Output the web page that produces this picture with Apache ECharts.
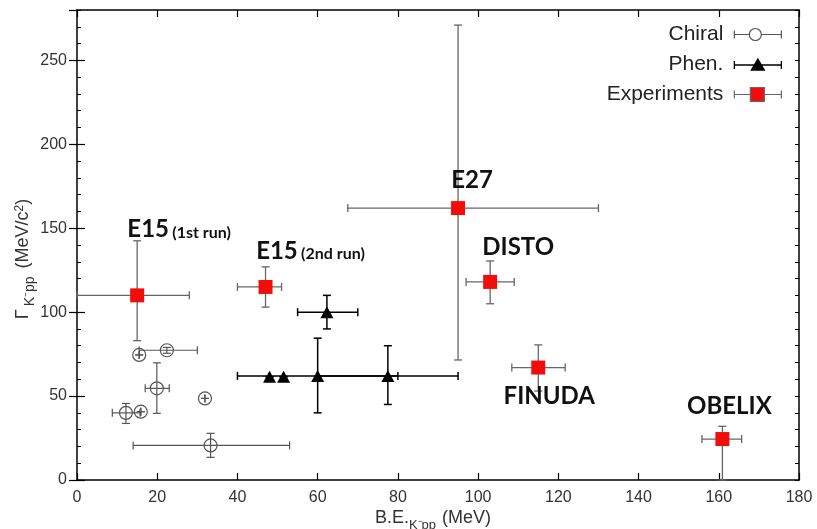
<!DOCTYPE html>
<html>
<head>
<meta charset="utf-8">
<script src="https://cdn.jsdelivr.net/npm/echarts@6/dist/echarts.min.js"></script>
<style>
  html, body { margin: 0; padding: 0; background: #fff; }
  #chart { width: 817px; height: 529px; }
</style>
</head>
<body>
<div id="chart"></div>
<script>
// K-pp binding energy (MeV) vs width (MeV/c^2)

// Chiral-model calculations
const chiralBE     = [15.5, 22.4, 19.9, 12.2, 15.9, 31.9, 33.3];
const chiralBELow  = [15.5, 15.5, 17.0,  8.8, 15.9, 31.9, 14.0];
const chiralBEHigh = [15.5, 30.0, 23.0, 15.7, 15.9, 31.9, 53.0];
const chiralW      = [74.5, 77.3, 54.6, 40.0, 40.7, 48.6, 20.6];
const chiralWLow   = [74.5, 75.5, 39.7, 33.7, 40.7, 48.6, 13.5];
const chiralWHigh  = [74.5, 79.0, 69.8, 45.6, 40.7, 48.6, 27.8];

// Phenomenological calculations
const phenBE     = [62.3, 48.0, 51.5, 60.0, 77.5];
const phenBELow  = [55.0, 48.0, 51.5, 40.0, 60.0];
const phenBEHigh = [70.0, 48.0, 51.5, 80.0, 95.0];
const phenW      = [100.0, 61.5, 61.5, 62.0, 62.0];
const phenWLow   = [90.0, 61.5, 61.5, 40.0, 45.0];
const phenWHigh  = [110.0, 61.5, 61.5, 84.5, 80.0];

// Experimental results
const expNames  = ['E15', 'E15', 'E27', 'DISTO', 'FINUDA', 'OBELIX'];
const expNotes  = ['(1st run)', '(2nd run)', '', '', '', ''];
const expBE     = [15.0, 47.0, 95.0, 103.0, 115.0, 160.9];
const expBELow  = [0.0, 40.0, 67.5, 97.0, 108.4, 155.8];
const expBEHigh = [28.0, 51.0, 130.0, 109.0, 121.7, 165.7];
const expW      = [110.0, 115.0, 162.0, 118.0, 67.0, 24.4];
const expWLow   = [83.0, 103.0, 71.5, 105.0, 53.0, 0.0];
const expWHigh  = [142.5, 127.0, 271.0, 130.5, 80.5, 32.0];

// Axis ticks
const xTicks = { min: 0, max: 180, step: 20 };
const yTicks = { min: 0, max: 280, major: 50, minor: 10 };

const seriesNames = ['Chiral', 'Phen.', 'Experiments'];

function pack(x, xl, xh, y, yl, yh) {
  return x.map((v, i) => [v, y[i], xl[i], xh[i], yl[i], yh[i]]);
}

// Error bars with end caps, drawn through the axis scales
function errorBars(color, width) {
  const cap = 4;
  return function (params, api) {
    const c = api.coord([api.value(0), api.value(1)]);
    const xl = api.coord([api.value(2), api.value(1)]);
    const xh = api.coord([api.value(3), api.value(1)]);
    const yl = api.coord([api.value(0), api.value(4)]);
    const yh = api.coord([api.value(0), api.value(5)]);
    const st = { stroke: color, lineWidth: width };
    const line = (x1, y1, x2, y2) => ({ type: 'line', shape: { x1, y1, x2, y2 }, style: st });
    return {
      type: 'group',
      children: [
        line(xl[0], c[1], xh[0], c[1]),
        line(xl[0], c[1] - cap, xl[0], c[1] + cap),
        line(xh[0], c[1] - cap, xh[0], c[1] + cap),
        line(c[0], yl[1], c[0], yh[1]),
        line(c[0] - cap, yl[1], c[0] + cap, yl[1]),
        line(c[0] - cap, yh[1], c[0] + cap, yh[1])
      ]
    };
  };
}

const chiralData = pack(chiralBE, chiralBELow, chiralBEHigh, chiralW, chiralWLow, chiralWHigh);
const phenData = pack(phenBE, phenBELow, phenBEHigh, phenW, phenWLow, phenWHigh);
const expData = pack(expBE, expBELow, expBEHigh, expW, expWLow, expWHigh);

// Label placement (pixel shift from each experiment marker)
const labelShift = [[42, -66], [45, -36], [14, -28], [28, -35], [11, 29], [7, -33]];

const red = '#f20d0d';
const sans = 'Liberation Sans, Arial, sans-serif';
const tickFont = { fontFamily: sans, fontSize: 16, color: '#333' };

const iconChiral = 'path://M0,7M6,7L21,7M33,7L53,7M6,3L6,11M53,3L53,11M33,7A6,6,0,1,1,21,7A6,6,0,1,1,33,7Z';
const iconPhen = 'path://M0,7M6,7L53,7M6,3L6,11M53,3L53,11M29.5,1L36,12L23,12Z';
const iconExp = 'path://M0,7M6,7L22,7M36,7L53,7M6,3L6,11M53,3L53,11M22,0L36,0L36,14L22,14Z';

const chart = echarts.init(document.getElementById('chart'), null, { renderer: 'canvas' });

const frameLine = { show: true, onZero: false, lineStyle: { color: '#000', width: 1.5 } };

chart.setOption({
  animation: false,
  backgroundColor: '#fff',
  grid: { left: 77, right: 18, top: 10, bottom: 49, containLabel: false, outerBoundsMode: 'none' },
  legend: {
    orient: 'vertical',
    right: 35,
    top: 24,
    padding: 0,
    align: 'right',
    itemWidth: 53,
    itemHeight: 14,
    itemGap: 9,
    selectedMode: false,
    textStyle: { fontFamily: sans, fontSize: 21, color: '#222' },
    data: [
      { name: seriesNames[0], icon: iconChiral, itemStyle: { color: 'rgba(0,0,0,0)', borderColor: '#555', borderWidth: 1.2 } },
      { name: seriesNames[1], icon: iconPhen, itemStyle: { color: '#000', borderColor: '#000', borderWidth: 1.3 } },
      { name: seriesNames[2], icon: iconExp, itemStyle: { color: red, borderColor: '#666', borderWidth: 1.2 } }
    ]
  },
  xAxis: [
    {
      type: 'value', position: 'bottom', min: xTicks.min, max: xTicks.max, interval: xTicks.step,
      axisLine: frameLine,
      axisTick: { show: true, inside: true, length: 7, lineStyle: { color: '#000', width: 1.2 } },
      axisLabel: Object.assign({ margin: 10 }, tickFont),
      splitLine: { show: false },
      name: '{n|B.E.}{s|K⁻pp}{n| (MeV)}',
      nameLocation: 'middle',
      nameGap: 29,
      nameMoveOverlap: false,
      nameTextStyle: {
        padding: [0, 10, 0, 0],
        rich: {
          n: { fontFamily: sans, fontSize: 18, color: '#333', verticalAlign: 'top' },
          s: { fontFamily: sans, fontSize: 13, color: '#333', verticalAlign: 'bottom', padding: [10, 1, 0, 0] }
        }
      }
    },
    {
      type: 'value', position: 'top', min: xTicks.min, max: xTicks.max, interval: xTicks.step,
      axisLine: frameLine,
      axisTick: { show: true, inside: true, length: 7, lineStyle: { color: '#000', width: 1.2 } },
      axisLabel: { show: false },
      splitLine: { show: false }
    }
  ],
  yAxis: [
    {
      type: 'value', position: 'left', min: yTicks.min, max: yTicks.max, interval: yTicks.major,
      axisLine: frameLine,
      axisTick: { show: true, inside: true, length: 8, lineStyle: { color: '#000', width: 1.2 } },
      axisLabel: Object.assign({ margin: 10, showMaxLabel: false }, tickFont),
      splitLine: { show: false },
      name: '{n|Γ}{s|K⁻pp}{n| (MeV/c}{p|2}{n|)}',
      nameLocation: 'middle',
      nameRotate: 90,
      nameGap: 40,
      nameMoveOverlap: false,
      nameTextStyle: {
        padding: [0, 28, 0, 0],
        rich: {
          n: { fontFamily: sans, fontSize: 18, color: '#333', verticalAlign: 'top' },
          s: { fontFamily: sans, fontSize: 14, color: '#333', verticalAlign: 'bottom', padding: [9, 3, 0, 3] },
          p: { fontFamily: sans, fontSize: 12, color: '#333', verticalAlign: 'top' }
        }
      }
    },
    {
      type: 'value', position: 'left', min: yTicks.min, max: yTicks.max, interval: yTicks.minor,
      axisLine: { show: false },
      axisTick: { show: true, inside: true, length: 4, lineStyle: { color: '#000', width: 1 } },
      axisLabel: { show: false },
      splitLine: { show: false }
    },
    {
      type: 'value', position: 'right', min: yTicks.min, max: yTicks.max, interval: yTicks.minor,
      axisLine: frameLine,
      axisTick: { show: true, inside: true, length: 4, lineStyle: { color: '#000', width: 1 } },
      axisLabel: { show: false },
      splitLine: { show: false }
    },
    {
      type: 'value', position: 'right', min: yTicks.min, max: yTicks.max, interval: yTicks.major,
      axisLine: { show: false },
      axisTick: { show: true, inside: true, length: 8, lineStyle: { color: '#000', width: 1.2 } },
      axisLabel: { show: false },
      splitLine: { show: false }
    }
  ],
  series: [
    {
      name: seriesNames[0] + ' bars', type: 'custom', renderItem: errorBars('#555', 1.2),
      data: chiralData, encode: { x: [0, 2, 3], y: [1, 4, 5] }, z: 2, silent: true
    },
    {
      name: seriesNames[1] + ' bars', type: 'custom', renderItem: errorBars('#000', 1.5),
      data: phenData, encode: { x: [0, 2, 3], y: [1, 4, 5] }, z: 2, silent: true
    },
    {
      name: seriesNames[2] + ' bars', type: 'custom', renderItem: errorBars('#666', 1.3),
      data: expData, encode: { x: [0, 2, 3], y: [1, 4, 5] }, z: 2, silent: true
    },
    {
      name: seriesNames[0], type: 'scatter', symbol: 'circle', symbolSize: 13, z: 3,
      itemStyle: { color: 'rgba(0,0,0,0)', borderColor: '#555', borderWidth: 1.2, opacity: 1 },
      data: chiralBE.map((v, i) => [v, chiralW[i]])
    },
    {
      name: seriesNames[1], type: 'scatter', symbol: 'triangle', symbolSize: [13, 12], z: 3,
      itemStyle: { color: '#000', opacity: 1 },
      data: phenBE.map((v, i) => [v, phenW[i]])
    },
    {
      name: seriesNames[2], type: 'scatter', symbol: 'rect', symbolSize: 14, z: 4,
      itemStyle: { color: red, opacity: 1 },
      data: expBE.map((v, i) => ({
        name: expNames[i],
        value: [v, expW[i]],
        label: { offset: labelShift[i] }
      })),
      label: {
        show: true,
        position: 'inside',
        align: 'center',
        verticalAlign: 'middle',
        formatter: (p) => expNotes[p.dataIndex]
          ? '{b|' + p.name + '} {s|' + expNotes[p.dataIndex] + '}'
          : '{b|' + p.name + '}',
        rich: {
          b: { fontFamily: 'Lato, sans-serif', fontWeight: 'bold', fontSize: 24, color: '#111', verticalAlign: 'bottom' },
          s: { fontFamily: 'Lato, sans-serif', fontWeight: 'bold', fontSize: 16, color: '#111', verticalAlign: 'bottom', padding: [0, 0, 1, 0] }
        }
      }
    }
  ]
});
</script>
</body>
</html>
